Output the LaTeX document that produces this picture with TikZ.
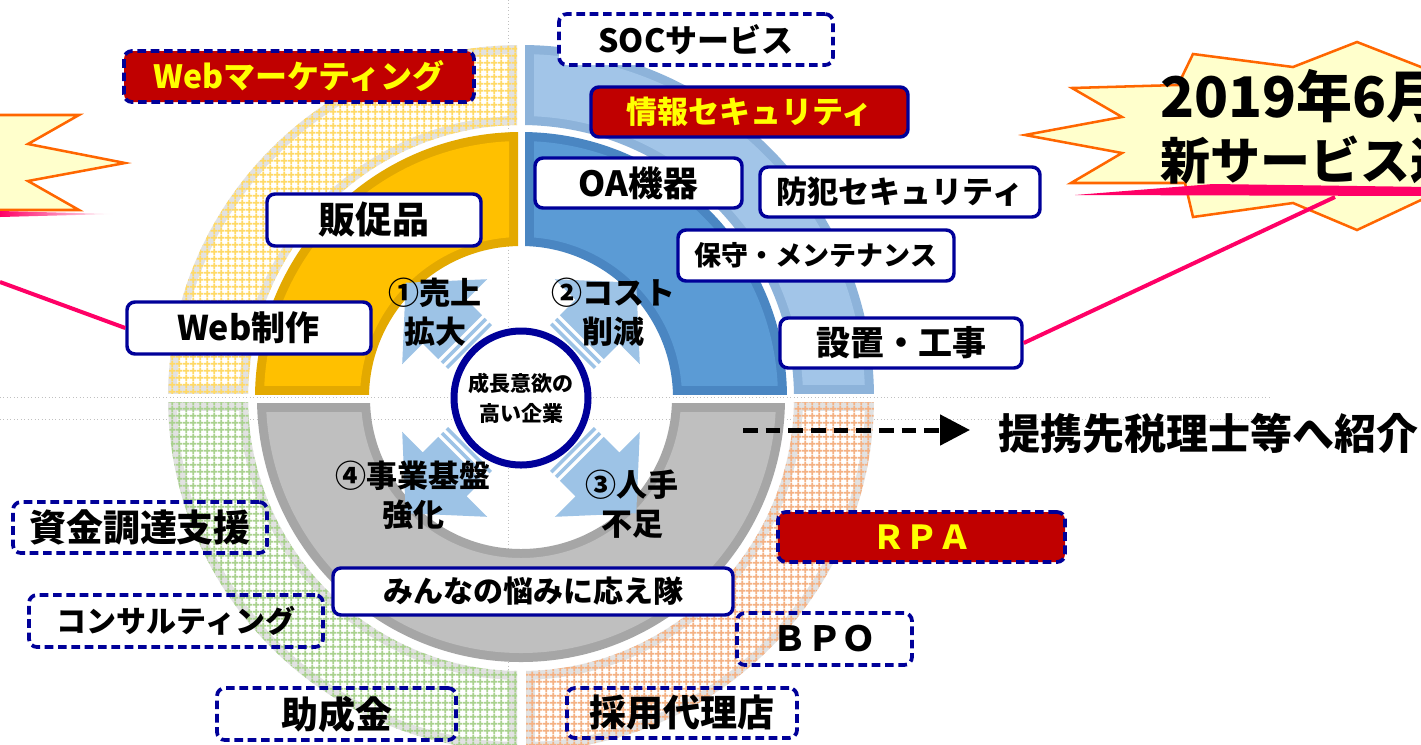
\documentclass[tikz,border=0pt]{standalone}
\usepackage{fontspec}
\setmainfont{Noto Sans CJK JP}
\usetikzlibrary{patterns.meta,arrows.meta}
\definecolor{navy}{HTML}{000099}
\definecolor{boxred}{HTML}{C00000}
\definecolor{txtyellow}{HTML}{FFFF00}
\definecolor{linkpink}{HTML}{FF0066}
\definecolor{starline}{HTML}{FF6600}
\definecolor{starfill}{HTML}{FFFFCC}
\definecolor{ydark}{HTML}{E3A900}
\definecolor{ylight}{HTML}{FFC000}
\definecolor{bdark}{HTML}{4A86C2}
\definecolor{blight}{HTML}{5B9BD5}
\definecolor{gdark}{HTML}{A6A6A6}
\definecolor{glight}{HTML}{BFBFBF}
\definecolor{lbdark}{HTML}{8DB3DA}
\definecolor{lblight}{HTML}{A2C5E8}
\definecolor{hatchband}{HTML}{E2E2E2}
\definecolor{hgold}{HTML}{FFD966}
\definecolor{hgreen}{HTML}{A9D18E}
\definecolor{horange}{HTML}{F4B183}
\definecolor{arrowblue}{HTML}{9DC3E6}
\definecolor{guidegray}{HTML}{C0C0C0}
\newcommand\ringq[7]{%
  \begin{scope}
    \clip #1;
    \fill[#5,even odd rule] (C) circle[radius=#4] (C) circle[radius=#3];
    \begin{scope}
      \clip #2;
      \fill[#6,even odd rule] (C) circle[radius=#4-9] (C) circle[radius=#3+9];
    \end{scope}
    \path[#7,even odd rule] (C) circle[radius=#4] (C) circle[radius=#3];
  \end{scope}}
\begin{document}
\begin{tikzpicture}[x=0.75pt,y=-0.75pt,
  box/.style={draw=navy,line width=2.6pt,rounded corners=6pt,fill=white,inner sep=0pt},
  dbox/.style={draw=navy,line width=2.8pt,rounded corners=6pt,dash pattern=on 6.5pt off 3.5pt,inner sep=0pt},
  redfill/.style={fill=boxred,text=txtyellow},
  sz/.style 2 args={minimum width=#1*0.75pt,minimum height=#2*0.75pt},
  fs/.style={font=\fontsize{#1}{#1}\selectfont\bfseries},
  lbl/.style={inner sep=0pt,align=center},
  pinkline/.style={draw=linkpink,line width=3pt},
  guide/.style={draw=guidegray,line width=0.6pt,dotted},
  star/.style={fill=starfill,draw=starline,line width=1.9pt,line join=miter},
  hatch/.style={pattern={Hatch[angle=0,distance=5.4pt,line width=1.5pt]},pattern color=#1},
  twoline/.style={font=\fontsize{23.25pt}{29.25pt}\selectfont\bfseries},
]
\fill[white] (0,0) rectangle (1421,744);
\useasboundingbox (0,0) rectangle (1421,744);
\coordinate (C) at (521,398);

% guide lines
\draw[guide] (0,397) -- (1272,397);
\draw[guide] (0,419) -- (1293,419);
\draw[guide] (508,0) -- (508,744);

% inner ring
\ringq{(0,0) rectangle (518,394)}{(0,0) rectangle (509,385)}{152}{266}{ydark}{ylight}{draw=none}
\ringq{(525,0) rectangle (1421,394)}{(534,0) rectangle (1421,385)}{152}{266}{bdark}{blight}{draw=none}
\ringq{(0,403) rectangle (1421,744)}{(0,412) rectangle (1421,744)}{151}{264}{gdark}{glight}{draw=none}
% outer ring
\ringq{(0,0) rectangle (517,393)}{(0,0) rectangle (508,384)}{273}{353}{hatchband}{white}{hatch=hgold}
\ringq{(525,0) rectangle (1421,393)}{(534,0) rectangle (1421,384)}{273}{353}{lbdark}{lblight}{draw=none}
\ringq{(0,402) rectangle (517,744)}{(0,411) rectangle (508,744)}{273}{353}{hatchband}{white}{hatch=hgreen}
\ringq{(526,402) rectangle (1421,744)}{(535,411) rectangle (1421,744)}{273}{353}{hatchband}{white}{hatch=horange}

% striped arrows
\foreach \a in {45,135,-45,-135}{
  \begin{scope}[shift={(C)},rotate=\a]
    \fill[arrowblue] (86,-31) -- (108,-31) -- (108,-60) -- (163,0) -- (108,60) -- (108,31) -- (86,31) -- cycle;
    \fill[arrowblue] (72,-31) rectangle (75.5,31);
    \fill[arrowblue] (79,-31) rectangle (82.5,31);
  \end{scope}}

% core
\node[circle,draw=navy,line width=5.25pt,fill=white,minimum size=134*0.75pt,inner sep=0pt,align=center,
      font=\fontsize{15.75pt}{22.5pt}\selectfont\bfseries] (core) at (C) {成長意欲の\\高い企業};

% quadrant labels
\node[lbl,twoline] (sales) at (435,312) {①売上\\拡大};
\node[lbl,twoline] (cost) at (613,312) {②コスト\\削減};
\node[lbl,twoline] (staff) at (632,504) {③人手\\不足};
\node[lbl,twoline] (basis) at (413,495) {④事業基盤\\強化};

% boxes
\node[dbox,redfill,sz={350}{51},fs=24pt] (webmkt) at (299,76.5) {Webマーケティング};
\node[box,sz={214}{52},fs=27.75pt] (hansoku) at (374,220) {販促品};
\node[box,sz={244}{52},fs=25.5pt,text width=224*0.75pt,align=left] (webseisaku) at (249,328) {\hspace*{30pt}Web制作};
\node[dbox,fill=white,sz={274}{51},fs=24pt] (soc) at (696,39.5) {SOCサービス};
\node[box,redfill,sz={317}{50},fs=23.25pt] (jouhou) at (749.5,112) {情報セキュリティ};
\node[box,sz={207}{50},fs=26pt] (oa) at (638.5,183) {OA機器};
\node[box,sz={280}{50},fs=23.25pt] (bouhan) at (900,192) {防犯セキュリティ};
\node[box,sz={276}{51},fs=20.25pt] (hoshu) at (816,255.5) {保守・メンテナンス};
\node[box,sz={242}{50},fs=25.5pt] (setchi) at (901,343) {設置・工事};
\node[box,sz={400}{47},fs=22.5pt] (minna) at (533,591.5) {みんなの悩みに応え隊};
\node[dbox,sz={254}{51},fs=27.75pt] (shikin) at (140,527.5) {資金調達支援};
\node[dbox,sz={294}{52},fs=22.5pt] (consul) at (176,621) {コンサルティング};
\node[dbox,sz={239}{52},fs=27.75pt] (josei) at (336.5,714) {助成金};
\node[dbox,redfill,sz={287}{50},fs=24.75pt] (rpa) at (921.5,537) {ＲＰＡ};
\node[dbox,sz={175}{52},fs=26pt] (bpo) at (824.5,639) {ＢＰＯ};
\node[dbox,sz={230}{50},fs=27.75pt] (saiyou) at (682,713) {採用代理店};

% starbursts
\filldraw[star] (-10,115) -- (79,115) -- (28,144) -- (125,163) -- (28,181) -- (79,210) -- (-10,210) -- cycle;
\filldraw[star] (1072,88) -- (1178,85) -- (1193,54) -- (1293,67) -- (1357,42) -- (1421,67) -- (1470,90)
  -- (1470,190) -- (1421,200) -- (1357,230) -- (1293,203) -- (1193,217) -- (1185,183) -- (1071,183)
  -- (1122,153) -- (1025,135) -- (1122,117) -- cycle;
\fill[linkpink] (1075,195) -- (1213,184) -- (1430,187) -- (1430,196) -- cycle;
\shade[left color=linkpink,right color=white] (0,211) -- (113,214) -- (0,217) -- cycle;

% pink connectors
\coordinate (lpend) at (0,282);
\draw[pinkline] (webseisaku.west) -- (lpend);
\coordinate (rpend) at (1335,197);
\draw[pinkline] (setchi.east) -- (rpend);

% starburst text
\node[lbl,fs=42pt,anchor=base west] (news1) at (1160,117) {2019年6月};
\node[lbl,fs=37.5pt,anchor=base west] (news2) at (1160,179) {新サービス追};

% referral
\node[lbl,fs=31.5pt,anchor=west] (intro) at (998,433) {提携先税理士等へ紹介};
\coordinate (dastart) at (743,430);
\draw[line width=3.75pt,dash pattern=on 11pt off 6pt,-{Triangle[length=22.5pt,width=22.5pt]},shorten >=21pt]
  (dastart) -- (dastart -| intro.west);
\end{tikzpicture}
\end{document}
